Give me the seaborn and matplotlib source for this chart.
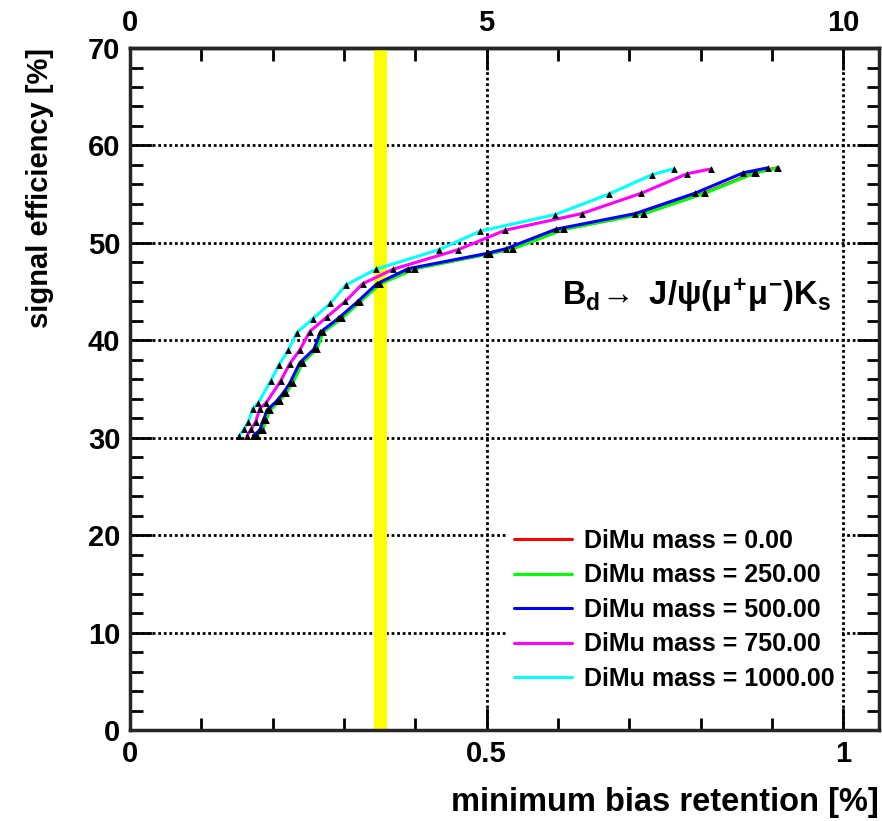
import numpy as np
import pandas as pd
import matplotlib
matplotlib.use('Agg')
import matplotlib.pyplot as plt
from matplotlib.ticker import MultipleLocator
import seaborn as sns

# signal efficiency vs minimum bias retention, one curve per dimuon mass cut
labels = ['DiMu mass = 0.00', 'DiMu mass = 250.00', 'DiMu mass = 500.00',
          'DiMu mass = 750.00', 'DiMu mass = 1000.00']
colors = ['#ff0000', '#00ff00', '#0000ff', '#ff00ff', '#00ffff']

x_m0 = [0.176, 0.184, 0.189, 0.194, 0.208, 0.217, 0.226, 0.240, 0.260, 0.269, 0.295, 0.320,
        0.349, 0.398, 0.503, 0.535, 0.607, 0.719, 0.804, 0.875, 0.907]
y_m0 = [30.2, 30.8, 31.8, 32.8, 33.8, 34.6, 35.6, 37.7, 39.1, 40.85, 42.25, 43.9,
        45.8, 47.35, 48.9, 49.4, 51.4, 53.0, 55.1, 57.2, 57.7]

x_m250 = [0.178, 0.186, 0.191, 0.196, 0.210, 0.219, 0.228, 0.242, 0.262, 0.271, 0.297, 0.322,
          0.351, 0.400, 0.505, 0.537, 0.609, 0.721, 0.806, 0.877, 0.909]
y_m250 = [30.2, 30.8, 31.8, 32.8, 33.8, 34.6, 35.6, 37.7, 39.1, 40.85, 42.25, 43.9,
          45.8, 47.35, 48.9, 49.4, 51.4, 53.0, 55.1, 57.2, 57.7]

x_m500 = [0.173, 0.182, 0.187, 0.192, 0.206, 0.215, 0.224, 0.238, 0.258, 0.267, 0.292, 0.318,
          0.346, 0.390, 0.499, 0.527, 0.597, 0.708, 0.792, 0.860, 0.894]
y_m500 = [30.2, 30.8, 31.8, 32.8, 33.8, 34.6, 35.6, 37.7, 39.1, 40.85, 42.25, 43.9,
          45.8, 47.35, 48.9, 49.4, 51.4, 53.0, 55.1, 57.2, 57.7]

x_m750 = [0.164, 0.170, 0.176, 0.182, 0.191, 0.211, 0.224, 0.238, 0.252, 0.276, 0.302,
          0.326, 0.369, 0.460, 0.526, 0.633, 0.717, 0.781, 0.815]
y_m750 = [30.2, 30.9, 31.6, 33.0, 33.6, 35.8, 37.6, 39.0, 40.9, 42.4, 44.0,
          45.8, 47.3, 49.3, 51.3, 53.0, 55.1, 57.1, 57.6]

x_m1000 = [0.153, 0.160, 0.166, 0.172, 0.180, 0.197, 0.209, 0.222, 0.234, 0.256, 0.281,
           0.303, 0.345, 0.433, 0.491, 0.596, 0.671, 0.732, 0.762]
y_m1000 = [30.2, 30.9, 31.6, 33.0, 33.6, 35.8, 37.5, 39.0, 40.8, 42.2, 43.8,
           45.7, 47.3, 49.3, 51.2, 52.9, 55.0, 57.0, 57.6]

band_lo, band_hi = 0.342, 0.360

frames = []
for lab, xs, ys in zip(labels, [x_m0, x_m250, x_m500, x_m750, x_m1000],
                       [y_m0, y_m250, y_m500, y_m750, y_m1000]):
    frames.append(pd.DataFrame({'retention': xs, 'efficiency': ys, 'cut': lab}))
df = pd.concat(frames, ignore_index=True)

sns.set_style('ticks')
plt.rcParams['font.family'] = ['Liberation Sans', 'DejaVu Sans']
plt.rcParams['font.weight'] = 'bold'
plt.rcParams['text.color'] = 'black'
plt.rcParams['axes.labelcolor'] = 'black'
plt.rcParams['xtick.color'] = 'black'
plt.rcParams['ytick.color'] = 'black'
plt.rcParams['mathtext.fontset'] = 'custom'
plt.rcParams['mathtext.rm'] = 'Liberation Sans:bold'
plt.rcParams['mathtext.it'] = 'Liberation Sans:bold'
plt.rcParams['mathtext.bf'] = 'Liberation Sans:bold'

fig = plt.figure(figsize=(8.82, 8.21), dpi=100)
ax = fig.add_axes([0.1474, 0.1108, 0.8492, 0.8307])

# grid at major ticks
for yv in [10, 20, 30, 40, 50, 60]:
    ax.axhline(yv, color='black', lw=2, ls=(0, (1, 1)), zorder=1)
for xv in [0.5, 1.0]:
    ax.axvline(xv, color='black', lw=2, ls=(0, (1, 1)), zorder=1)

ax.axvspan(band_lo, band_hi, color='#ffff00', lw=0, zorder=2)

sns.lineplot(data=df, x='retention', y='efficiency', hue='cut', palette=colors,
             sort=False, estimator=None, lw=2.2, ax=ax, zorder=3)
sns.scatterplot(data=df, x='retention', y='efficiency', color='black', marker='^',
                s=24, linewidth=0, ax=ax, zorder=4, legend=False)

ax.set_xlim(0, 1.05)
ax.set_ylim(0, 70)
ax.xaxis.set_major_locator(MultipleLocator(0.5))
ax.xaxis.set_minor_locator(MultipleLocator(0.1))
ax.yaxis.set_major_locator(MultipleLocator(10))
ax.yaxis.set_minor_locator(MultipleLocator(2))
ax.set_xticks([0, 0.5, 1])
ax.set_xticklabels(['0', '0.5', '1'])
ax.tick_params(which='both', direction='in', width=2, right=True, top=False,
               labelsize=21, pad=7)
ax.tick_params(which='major', length=16)
ax.tick_params(which='minor', length=9)
for sp in ax.spines.values():
    sp.set_linewidth(2.5)

secax = ax.secondary_xaxis('top', functions=(lambda v: v * 10, lambda v: v / 10))
secax.set_xticks([0, 5, 10])
secax.xaxis.set_minor_locator(MultipleLocator(1))
secax.tick_params(which='both', direction='in', width=2, labelsize=21, pad=8)
secax.tick_params(which='major', length=16)
secax.tick_params(which='minor', length=9)
secax.spines['top'].set_linewidth(2.5)

ax.set_xlabel('minimum bias retention [%]', fontsize=23.5, fontweight='bold', loc='right',
              labelpad=14)
ax.set_ylabel('signal efficiency [%]', fontsize=21, fontweight='bold', loc='top',
              labelpad=24)

ax.text(0.577, 0.637, r'$B_{d}\!\rightarrow$ J/$\psi$($\mu^{+}\mu^{-}$)K$_{s}$',
        transform=ax.transAxes, fontsize=23.5, fontweight='bold', va='center', ha='left')

handles, labs = ax.get_legend_handles_labels()
leg = ax.legend(handles, labs, loc='upper left', bbox_to_anchor=(0.503, 0.306),
                frameon=True, facecolor='white', edgecolor='none', framealpha=1,
                fontsize=18, handlelength=2.3, handletextpad=0.5, labelspacing=0.42,
                borderpad=0.3, borderaxespad=0, fancybox=False)
leg.set_zorder(5)

fig.savefig('out.png', dpi=100)
